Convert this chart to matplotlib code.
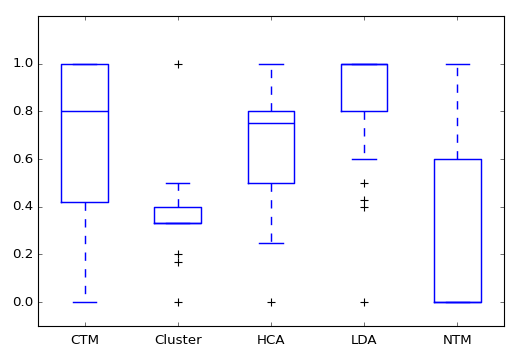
import matplotlib
matplotlib.use("Agg")
import matplotlib.pyplot as plt

methods = ["CTM", "Cluster", "HCA", "LDA", "NTM"]

ctm = [0.0, 0.34, 0.5, 0.8, 1.0, 1.0, 1.0]
cluster = [0.0, 0.167, 0.2, 0.333, 0.333, 0.333, 0.333, 0.333, 0.333,
           0.4, 0.4, 0.4, 0.4, 0.5, 1.0]
hca = [0.0, 0.25, 0.5, 0.6, 0.75, 0.8, 0.8, 0.9, 1.0]
lda = [0.0, 0.4, 0.43, 0.5, 0.6, 0.8, 0.8, 0.8, 0.9, 0.9,
       1.0, 1.0, 1.0, 1.0, 1.0, 1.0, 1.0, 1.0, 1.0, 1.0, 1.0]
ntm = [0.0, 0.0, 0.0, 0.0, 0.0, 0.4, 0.6, 0.8, 1.0]

scores = [ctm, cluster, hca, lda, ntm]

plt.style.use("classic")
fig = plt.figure(figsize=(6.4, 4.45), dpi=80)
ax = fig.add_axes([0.0742, 0.0843, 0.9098, 0.8707])

lw = 1.3
ax.boxplot(scores, widths=0.5,
           boxprops=dict(color="blue", linewidth=lw),
           whiskerprops=dict(color="blue", linestyle=(0, (7.5, 7.5)), linewidth=lw),
           capprops=dict(color="blue", linewidth=lw),
           medianprops=dict(color="blue", linewidth=lw),
           flierprops=dict(marker="+", markeredgecolor="black", markersize=8))

ax.set_xticks(range(1, len(methods) + 1))
ax.set_xticklabels(methods)
ax.tick_params(axis="x", pad=7)
ax.set_xlim(0.5, 5.5)
ax.set_ylim(-0.1, 1.2)
ax.set_yticks([0.0, 0.2, 0.4, 0.6, 0.8, 1.0])

fig.savefig("out.png", dpi=80)
